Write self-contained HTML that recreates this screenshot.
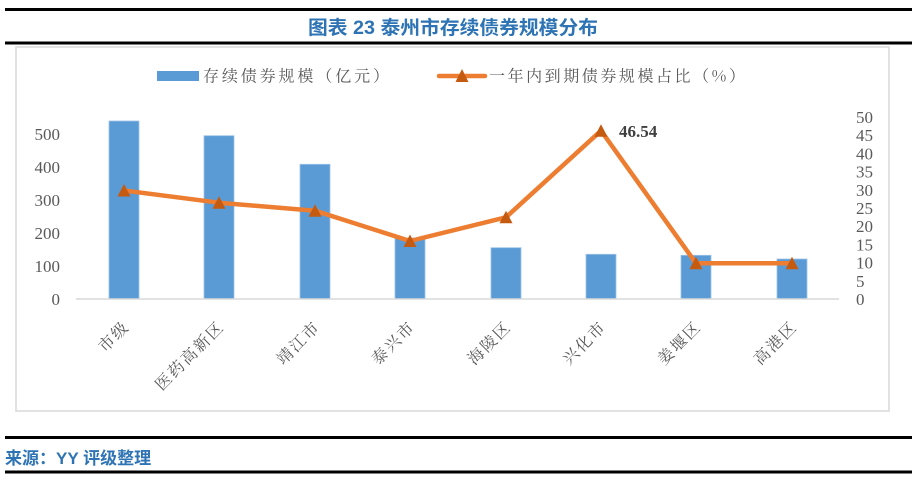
<!DOCTYPE html>
<html><head><meta charset="utf-8"><style>
html,body{margin:0;padding:0;background:#fff;}
svg{display:block;}
</style></head><body>
<svg width="917" height="480" viewBox="0 0 917 480" xmlns="http://www.w3.org/2000/svg">
<rect width="917" height="480" fill="#fff"/>
<!-- header lines -->
<rect x="5" y="8" width="907" height="3" fill="#000"/>
<text x="453" y="34" text-anchor="middle" font-family="Liberation Sans, 'Noto Sans CJK SC', sans-serif" font-weight="bold" font-size="19" fill="#2E74B5" textLength="290" lengthAdjust="spacingAndGlyphs">图表 23  泰州市存续债券规模分布</text>
<rect x="5" y="41.5" width="907" height="3" fill="#000"/>
<!-- chart box -->
<rect x="16" y="47" width="873" height="364" fill="#fff" stroke="#D9D9D9" stroke-width="1.5"/>
<!-- legend -->
<rect x="157" y="71" width="42" height="10" fill="#5B9BD5"/>
<text x="203" y="81.5" font-family="'Noto Serif CJK SC', 'Liberation Serif', serif" font-size="16" fill="#595959" textLength="186" lengthAdjust="spacing">存续债券规模（亿元）</text>
<line x1="439" y1="76" x2="485" y2="76" stroke="#ED7D31" stroke-width="4.5" stroke-linecap="round"/>
<polygon points="462,69 468.5,82 455.5,82" fill="#C55A11"/>
<text x="489" y="81.5" font-family="'Noto Serif CJK SC', 'Liberation Serif', serif" font-size="16" fill="#595959" textLength="256" lengthAdjust="spacing">一年内到期债券规模占比（%）</text>
<!-- left axis labels -->
<g font-family="'Liberation Serif', serif" font-size="17" fill="#595959" text-anchor="end">
<text x="60" y="305">0</text>
<text x="60" y="272">100</text>
<text x="60" y="239">200</text>
<text x="60" y="206">300</text>
<text x="60" y="173">400</text>
<text x="60" y="140">500</text>
</g>
<!-- right axis labels -->
<g font-family="'Liberation Serif', serif" font-size="17" fill="#595959" text-anchor="start">
<text x="856" y="305">0</text>
<text x="856" y="286.8">5</text>
<text x="856" y="268.6">10</text>
<text x="856" y="250.4">15</text>
<text x="856" y="232.2">20</text>
<text x="856" y="214">25</text>
<text x="856" y="195.8">30</text>
<text x="856" y="177.6">35</text>
<text x="856" y="159.4">40</text>
<text x="856" y="141.2">45</text>
<text x="856" y="123">50</text>
</g>
<!-- bars -->
<g fill="#5B9BD5" stroke="#9DC3E6" stroke-width="0.8">
<rect x="109" y="121" width="30" height="178"/>
<rect x="204" y="135.7" width="30" height="163.3"/>
<rect x="300" y="164.3" width="30" height="134.7"/>
<rect x="395" y="238" width="30" height="61"/>
<rect x="491" y="247.7" width="30" height="51.3"/>
<rect x="586" y="254.3" width="30" height="44.7"/>
<rect x="681" y="255.3" width="30" height="43.7"/>
<rect x="777" y="259" width="30" height="40"/>
</g>
<!-- axis line -->
<line x1="76" y1="299" x2="839" y2="299" stroke="#D9D9D9" stroke-width="1.5"/>
<!-- line series -->
<polyline points="124,190.5 219,202.7 315,210.7 410,241 506,217.3 601,130.7 696,263.3 792,263.3" fill="none" stroke="#ED7D31" stroke-width="4.5" stroke-linejoin="round" stroke-linecap="round"/>
<g fill="#C55A11">
<polygon points="124,184 130.5,196.5 117.5,196.5"/>
<polygon points="219,196.2 225.5,208.7 212.5,208.7"/>
<polygon points="315,204.2 321.5,216.7 308.5,216.7"/>
<polygon points="410,234.5 416.5,247 403.5,247"/>
<polygon points="506,210.8 512.5,223.3 499.5,223.3"/>
<polygon points="601,124.2 607.5,136.7 594.5,136.7"/>
<polygon points="696,256.8 702.5,269.3 689.5,269.3"/>
<polygon points="792,256.8 798.5,269.3 785.5,269.3"/>
</g>
<text x="619" y="137" font-family="'Liberation Serif', serif" font-weight="bold" font-size="17" fill="#404040">46.54</text>
<!-- x labels -->
<g font-family="'Noto Serif CJK SC', 'Liberation Serif', serif" font-size="16" fill="#595959" text-anchor="end">
<text transform="translate(129,329) rotate(-45)" textLength="34" lengthAdjust="spacing">市级</text>
<text transform="translate(224,329) rotate(-45)" textLength="88" lengthAdjust="spacing">医药高新区</text>
<text transform="translate(320,329) rotate(-45)" textLength="52" lengthAdjust="spacing">靖江市</text>
<text transform="translate(415,329) rotate(-45)" textLength="52" lengthAdjust="spacing">泰兴市</text>
<text transform="translate(511,329) rotate(-45)" textLength="52" lengthAdjust="spacing">海陵区</text>
<text transform="translate(606,329) rotate(-45)" textLength="52" lengthAdjust="spacing">兴化市</text>
<text transform="translate(701,329) rotate(-45)" textLength="52" lengthAdjust="spacing">姜堰区</text>
<text transform="translate(797,329) rotate(-45)" textLength="52" lengthAdjust="spacing">高港区</text>
</g>
<!-- footer -->
<rect x="5" y="436" width="907" height="3" fill="#000"/>
<text x="5" y="464" font-family="Liberation Sans, 'Noto Sans CJK SC', sans-serif" font-weight="bold" font-size="17" fill="#2E74B5">来源：YY 评级整理</text>
<rect x="5" y="470.5" width="907" height="3" fill="#000"/>
</svg>
</body></html>
